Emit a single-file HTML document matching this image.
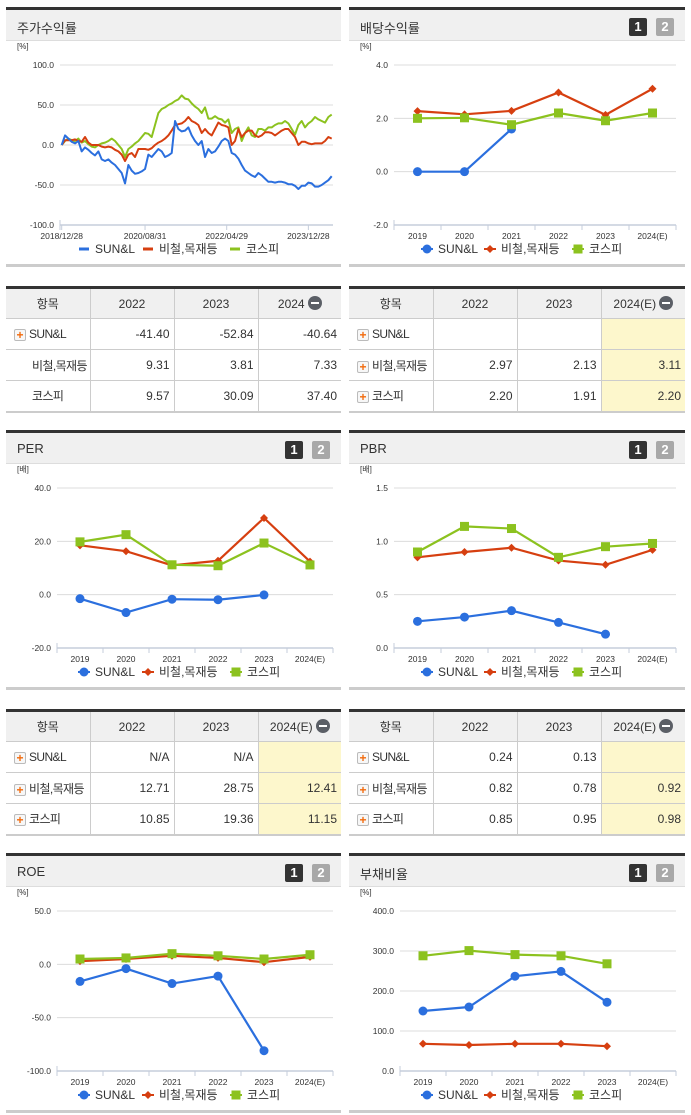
<!DOCTYPE html>
<html><head><meta charset="utf-8">
<style>
*{box-sizing:border-box;margin:0;padding:0}
body{width:691px;height:1115px;background:#fff;position:relative;overflow:hidden;font-family:"Liberation Sans","Noto Sans CJK KR",sans-serif;color:#333}
.hdr{position:absolute;height:34px;border-top:3px solid #333;background:#f0f0f0;border-bottom:1px solid #ddd}
.hdr .t{position:absolute;left:11px;top:8px;font-size:13px;color:#333}
.b1,.b2{position:absolute;top:8px;width:18px;height:18px;color:#fff;font-weight:bold;font-size:13px;text-align:center;line-height:18px;border-radius:2px}
.b1{background:#333;right:38px}.b2{background:#a8a8a8;right:11px}
.sep{position:absolute;height:3px;background:#ccc}
table{position:absolute;border-collapse:collapse;border-top:3px solid #333;border-bottom:2px solid #ccc;font-size:12px;table-layout:fixed}
td,th{height:31px;border:1px solid #ccc;border-top:none;white-space:nowrap;overflow:visible}
tr td:first-child,tr th:first-child{border-left:none}
tr td:last-child,tr th:last-child{border-right:none}
th{background:#f0f0f0;font-weight:normal;text-align:center;color:#333}
td{text-align:right;padding-right:4px;color:#333}
td.n{text-align:left;padding-left:8px;letter-spacing:-0.6px}
td.hl{background:#fdf7cc}
.pl{display:inline-block;width:12px;height:12px;border:1px solid #bbb;background:#f7f7f7;color:#f26a0c;font-size:12px;line-height:10px;text-align:center;font-weight:bold;margin-right:3px;vertical-align:-1px;border-radius:2px;letter-spacing:0}
.mi{display:inline-block;width:14px;height:14px;border-radius:7px;background:#5b5f66;vertical-align:-2px;margin-left:3px;position:relative}
.mi:after{content:"";position:absolute;left:3px;top:6px;width:8px;height:2px;background:#fff}
svg{position:absolute;left:0;top:0}
</style></head><body>

<div class="hdr" style="left:6px;top:7px;width:335px"><span class="t">주가수익률</span></div>
<div class="hdr" style="left:349px;top:7px;width:336px"><span class="t">배당수익률</span><span class="b1">1</span><span class="b2">2</span></div>
<div class="hdr" style="left:6px;top:430px;width:335px"><span class="t">PER</span><span class="b1">1</span><span class="b2">2</span></div>
<div class="hdr" style="left:349px;top:430px;width:336px"><span class="t">PBR</span><span class="b1">1</span><span class="b2">2</span></div>
<div class="hdr" style="left:6px;top:853px;width:335px"><span class="t">ROE</span><span class="b1">1</span><span class="b2">2</span></div>
<div class="hdr" style="left:349px;top:853px;width:336px"><span class="t">부채비율</span><span class="b1">1</span><span class="b2">2</span></div>

<div class="sep" style="left:6px;top:264px;width:335px"></div>
<div class="sep" style="left:349px;top:264px;width:336px"></div>
<div class="sep" style="left:6px;top:687px;width:335px"></div>
<div class="sep" style="left:349px;top:687px;width:336px"></div>
<div class="sep" style="left:6px;top:1110px;width:335px"></div>
<div class="sep" style="left:349px;top:1110px;width:336px"></div>

<table style="left:6px;top:286px;width:335px">
<colgroup><col style="width:84px"><col style="width:84px"><col style="width:84px"><col style="width:83px"></colgroup>
<tr><th>항목</th><th>2022</th><th>2023</th><th>2024<span class="mi"></span></th></tr>
<tr><td class="n"><span class="pl">+</span>SUN&amp;L</td><td>-41.40</td><td>-52.84</td><td>-40.64</td></tr>
<tr><td class="n" style="padding-left:26px">비철,목재등</td><td>9.31</td><td>3.81</td><td>7.33</td></tr>
<tr><td class="n" style="padding-left:26px">코스피</td><td>9.57</td><td>30.09</td><td>37.40</td></tr>
</table>

<table style="left:349px;top:286px;width:336px">
<colgroup><col style="width:84px"><col style="width:84px"><col style="width:84px"><col style="width:84px"></colgroup>
<tr><th>항목</th><th>2022</th><th>2023</th><th>2024(E)<span class="mi"></span></th></tr>
<tr><td class="n"><span class="pl">+</span>SUN&amp;L</td><td></td><td></td><td class="hl"></td></tr>
<tr><td class="n"><span class="pl">+</span>비철,목재등</td><td>2.97</td><td>2.13</td><td class="hl">3.11</td></tr>
<tr><td class="n"><span class="pl">+</span>코스피</td><td>2.20</td><td>1.91</td><td class="hl">2.20</td></tr>
</table>

<table style="left:6px;top:709px;width:335px">
<colgroup><col style="width:84px"><col style="width:84px"><col style="width:84px"><col style="width:83px"></colgroup>
<tr><th>항목</th><th>2022</th><th>2023</th><th>2024(E)<span class="mi"></span></th></tr>
<tr><td class="n"><span class="pl">+</span>SUN&amp;L</td><td>N/A</td><td>N/A</td><td class="hl"></td></tr>
<tr><td class="n"><span class="pl">+</span>비철,목재등</td><td>12.71</td><td>28.75</td><td class="hl">12.41</td></tr>
<tr><td class="n"><span class="pl">+</span>코스피</td><td>10.85</td><td>19.36</td><td class="hl">11.15</td></tr>
</table>

<table style="left:349px;top:709px;width:336px">
<colgroup><col style="width:84px"><col style="width:84px"><col style="width:84px"><col style="width:84px"></colgroup>
<tr><th>항목</th><th>2022</th><th>2023</th><th>2024(E)<span class="mi"></span></th></tr>
<tr><td class="n"><span class="pl">+</span>SUN&amp;L</td><td>0.24</td><td>0.13</td><td class="hl"></td></tr>
<tr><td class="n"><span class="pl">+</span>비철,목재등</td><td>0.82</td><td>0.78</td><td class="hl">0.92</td></tr>
<tr><td class="n"><span class="pl">+</span>코스피</td><td>0.85</td><td>0.95</td><td class="hl">0.98</td></tr>
</table>

<svg id="chart" width="691" height="1115"></svg>

<script>
// ---- stock return series (evenly spaced samples) ----
const stockDates = ["2018/12/28","2020/08/31","2022/04/29","2023/12/28"];
const stockDateIdx = [0, 25, 49.5, 74];
const stockTicks = [100, 50, 0, -50, -100];
const sunReturn = [0,12,8,4,2,5,-8,-3,-6,-10,
 -13,-8,-18,-20,-18,-22,-25,-30,-35,-48,
 -25,-32,-36,-35,-33,-30,-12,-15,-10,-5,
 -8,-15,-13,-10,30,20,17,18,22,12,
 5,0,5,-15,-5,-10,-8,-2,5,8,
 5,-10,-12,-17,-25,-32,-35,-38,-40,-35,
 -38,-42,-46,-46,-47,-46,-46,-47,-49,-49,
 -51,-55,-51,-51,-47,-48,-52,-52,-50,-47,
 -44,-39];
const sectorReturn = [0,6,6,6,7,5,4,10,3,0,
 0,0,-2,-3,-2,-3,-6,-8,-12,-20,
 -12,-10,-15,-5,-5,-5,-6,-4,0,3,
 5,8,12,18,25,26,27,30,35,30,
 28,25,15,20,15,12,20,28,25,24,
 22,0,5,20,10,15,18,18,12,10,
 12,16,16,15,12,15,18,20,20,15,
 10,0,4,4,2,1,2,2,2,5,
 10,8];
const kospiReturn = [0,5,8,6,5,8,3,5,1,-2,
 -3,0,2,3,5,8,5,0,-5,-15,
 -5,-2,2,5,10,15,14,10,25,40,
 45,47,50,52,55,57,62,58,57,52,
 48,45,40,47,33,33,36,33,32,28,
 32,15,20,22,5,15,22,12,10,20,
 20,18,22,22,25,27,27,30,27,20,
 13,25,30,22,27,30,35,32,30,28,
 35,38];

// ---- category charts ----
const years = ["2019","2020","2021","2022","2023","2024(E)"];
const divTicks = [4, 2, 0, -2];
const divSun = [0, 0, 1.6];
const divSector = [2.27, 2.15, 2.28, 2.97, 2.13, 3.11];
const divKospi = [2.0, 2.02, 1.76, 2.20, 1.91, 2.20];
const perTicks = [40, 20, 0, -20];
const perSun = [-1.5, -6.7, -1.7, -1.9, -0.1];
const perSector = [18.5, 16.3, 11.0, 12.71, 28.75, 12.41];
const perKospi = [19.8, 22.5, 11.2, 10.85, 19.36, 11.15];
const pbrTicks = [1.5, 1.0, 0.5, 0.0];
const pbrSun = [0.25, 0.29, 0.35, 0.24, 0.13];
const pbrSector = [0.85, 0.90, 0.94, 0.82, 0.78, 0.92];
const pbrKospi = [0.90, 1.14, 1.12, 0.85, 0.95, 0.98];
const roeTicks = [50, 0, -50, -100];
const roeSun = [-16, -4, -18, -11, -81];
const roeSector = [3, 5, 8, 6, 2, 7];
const roeKospi = [5, 6, 10, 8, 5, 9];
const debtTicks = [400, 300, 200, 100, 0];
const debtSun = [150, 160, 237, 249, 172];
const debtSector = [68, 65, 68, 68, 62];
const debtKospi = [288, 301, 291, 288, 268];

const NS = "http://www.w3.org/2000/svg";
const svg = document.getElementById("chart");
const BLUE = "#2b6fde", RED = "#d63f10", GREEN = "#8cc21f";
function mk(tag, attrs, parent) {
  const e = document.createElementNS(NS, tag);
  for (const k in attrs) e.setAttribute(k, attrs[k]);
  (parent || svg).appendChild(e);
  return e;
}
function txt(s, x, y, size, anchor, fill, parent) {
  const t = mk("text", {x: x, y: y, "font-size": size, "text-anchor": anchor, fill: fill, "font-family": "Liberation Sans, Noto Sans CJK KR, sans-serif"}, parent);
  t.textContent = s;
  return t;
}
function marker(type, x, y, color, g) {
  let m;
  if (type === "circle") m = mk("circle", {cx: x, cy: y, r: 4.5, fill: color}, g);
  else if (type === "diamond") m = mk("polygon", {points: (x)+","+(y-4)+" "+(x+4)+","+y+" "+x+","+(y+4)+" "+(x-4)+","+y, fill: color}, g);
  else m = mk("rect", {x: x-4.5, y: y-4.5, width: 9, height: 9, fill: color}, g);
  return m;
}
function legend(items, y, g) {
  items.forEach(function (it) {
    if (it.type === "line") mk("line", {x1: it.x-5, y1: y, x2: it.x+5, y2: y, stroke: it.color, "stroke-width": 3}, g);
    else { mk("line", {x1: it.x-6, y1: y, x2: it.x+6, y2: y, stroke: it.color, "stroke-width": 2}, g); marker(it.type, it.x, y, it.color, g); }
    const t = txt(it.name, it.x + 11, y + 4, 12, "start", "#333", g);
    
    
  });
}
function yAxis(cfg, g) {
  const sy = v => cfg.top + (cfg.max - v) / (cfg.max - cfg.min) * (cfg.bottom - cfg.top);
  txt(cfg.unit, cfg.unitX, cfg.top - 16, 8, "start", "#333", g);
  cfg.ticks.forEach(function (v) {
    const yy = sy(v);
    if (v !== cfg.min) {
      const gl = mk("line", {x1: cfg.left, y1: yy, x2: cfg.right, y2: yy, stroke: "#dcdcdc", "stroke-width": 1}, g);
      
      
    }
    const lb = txt(v.toFixed(1), cfg.left - 6, yy + 3, 8.5, "end", "#333", g);
    
    
  });
  mk("line", {x1: cfg.left, y1: cfg.bottom, x2: cfg.right, y2: cfg.bottom, stroke: "#c5cddb", "stroke-width": 1.5}, g);
  mk("line", {x1: cfg.left, y1: cfg.bottom - 5, x2: cfg.left, y2: cfg.bottom + 5, stroke: "#c5cddb", "stroke-width": 1}, g);
  return sy;
}
function catChart(cfg) {
  const g = mk("g", {});
  
  
  const sy = yAxis(cfg, g);
  const bw = (cfg.right - cfg.left) / cfg.cats.length;
  const sx = i => cfg.left + (i + 0.5) * bw;
  cfg.cats.forEach(function (c, i) {
    mk("line", {x1: cfg.left + (i + 1) * bw, y1: cfg.bottom, x2: cfg.left + (i + 1) * bw, y2: cfg.bottom + 5, stroke: "#c5cddb", "stroke-width": 1}, g);
    const lb = txt(c, sx(i), cfg.bottom + 14, 8.5, "middle", "#333", g);
    
    
  });
  cfg.series.forEach(function (s) {
    const pts = s.vals.map((v, i) => sx(i) + "," + sy(v)).join(" ");
    const pl = mk("polyline", {points: pts, fill: "none", stroke: s.color, "stroke-width": 2.2}, g);
    
    
    s.vals.forEach(function (v, i) {
      const m = marker(s.type, sx(i), sy(v), s.color, g);
      
      
    });
  });
  legend(cfg.series.map((s, k) => ({type: s.type, color: s.color, name: s.label, x: cfg.legX[k]})), cfg.bottom + 24, g);
}
function seriesSet(a, b, c) {
  return [
    {key: "sectorn", vals: b, color: RED, type: "diamond", label: "비철,목재등"},
    {key: "kospi", vals: c, color: GREEN, type: "square", label: "코스피"},
    {key: "sunl", vals: a, color: BLUE, type: "circle", label: "SUN&L"}
  ];
}
function ordered(a, b, c) { const s = seriesSet(a, b, c); return [s[2], s[0], s[1]]; }

// stock chart
(function () {
  const cfg = {left: 60, right: 333, top: 65, bottom: 225, min: -100, max: 100, ticks: stockTicks, unit: "[%]", unitX: 17};
  const g = mk("g", {});
  
  
  const sy = yAxis(cfg, g);
  const n = sunReturn.length;
  const sx = i => 61.7 + i * 270 / (n - 1);
  stockDates.forEach(function (d, k) {
    const x = sx(stockDateIdx[k]);
    mk("line", {x1: x, y1: cfg.bottom, x2: x, y2: cfg.bottom + 5, stroke: "#c5cddb", "stroke-width": 1}, g);
    const lb = txt(d, x, cfg.bottom + 14, 8.5, "middle", "#333", g);
    
    
  });
  [[kospiReturn, GREEN, "kospi-line"], [sectorReturn, RED, "sector-line"], [sunReturn, BLUE, "sunl-line"]].forEach(function (s) {
    const pl = mk("polyline", {points: s[0].map((v, i) => sx(i) + "," + sy(v)).join(" "), fill: "none", stroke: s[1], "stroke-width": 2, "stroke-linejoin": "round"}, g);
    
    
  });
  legend([{type: "line", color: BLUE, name: "SUN&L", x: 84}, {type: "line", color: RED, name: "비철,목재등", x: 148}, {type: "line", color: GREEN, name: "코스피", x: 235}], 249, g);
})();

const legR = [427, 490, 578], legL = [84, 148, 236];
catChart({name: "dividend-chart", left: 394, right: 676, top: 65, bottom: 225, min: -2, max: 4, ticks: divTicks, unit: "[%]", unitX: 360, cats: years, series: ordered(divSun, divSector, divKospi), legX: legR});
catChart({name: "per-chart", left: 57, right: 333, top: 488, bottom: 648, min: -20, max: 40, ticks: perTicks, unit: "[배]", unitX: 17, cats: years, series: ordered(perSun, perSector, perKospi), legX: legL});
catChart({name: "pbr-chart", left: 394, right: 676, top: 488, bottom: 648, min: 0, max: 1.5, ticks: pbrTicks, unit: "[배]", unitX: 360, cats: years, series: ordered(pbrSun, pbrSector, pbrKospi), legX: legR});
catChart({name: "roe-chart", left: 57, right: 333, top: 911, bottom: 1071, min: -100, max: 50, ticks: roeTicks, unit: "[%]", unitX: 17, cats: years, series: ordered(roeSun, roeSector, roeKospi), legX: legL});
catChart({name: "debt-ratio-chart", left: 400, right: 676, top: 911, bottom: 1071, min: 0, max: 400, ticks: debtTicks, unit: "[%]", unitX: 360, cats: years, series: ordered(debtSun, debtSector, debtKospi), legX: legR});
</script>
</body></html>
